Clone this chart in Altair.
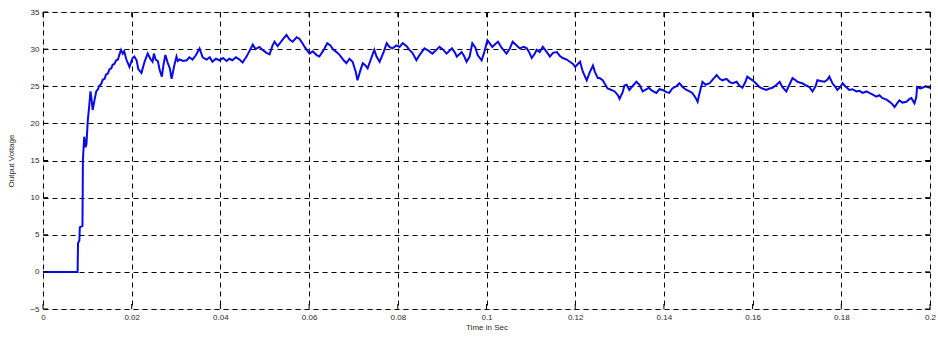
import altair as alt
import pandas as pd

# Sampled output voltage of the converter (time in seconds, voltage in volts)
time_s = [
    0.0000, 0.0078, 0.0079, 0.0082, 0.0083, 0.0089, 0.0090, 0.0093, 0.0096, 0.0098,
    0.0101, 0.0104, 0.0107, 0.0109, 0.0112, 0.0116, 0.0120, 0.0124, 0.0127, 0.0131,
    0.0135, 0.0139, 0.0142, 0.0146, 0.0150, 0.0154, 0.0157, 0.0161, 0.0165, 0.0169,
    0.0172, 0.0176, 0.0180, 0.0183, 0.0188, 0.0195, 0.0202, 0.0206, 0.0211, 0.0215,
    0.0219, 0.0222, 0.0229, 0.0236, 0.0242, 0.0247, 0.0250, 0.0254, 0.0259, 0.0263,
    0.0268, 0.0272, 0.0276, 0.0281, 0.0286, 0.0290, 0.0296, 0.0301, 0.0304, 0.0308,
    0.0316, 0.0324, 0.0330, 0.0337, 0.0345, 0.0353, 0.0360, 0.0369, 0.0376, 0.0382,
    0.0390, 0.0398, 0.0406, 0.0414, 0.0420, 0.0427, 0.0435, 0.0443, 0.0450, 0.0459,
    0.0466, 0.0473, 0.0479, 0.0488, 0.0495, 0.0504, 0.0511, 0.0517, 0.0522, 0.0529,
    0.0533, 0.0542, 0.0549, 0.0556, 0.0563, 0.0572, 0.0578, 0.0585, 0.0590, 0.0596,
    0.0601, 0.0608, 0.0617, 0.0623, 0.0632, 0.0641, 0.0648, 0.0655, 0.0662, 0.0669,
    0.0678, 0.0684, 0.0691, 0.0698, 0.0705, 0.0709, 0.0716, 0.0721, 0.0727, 0.0732,
    0.0739, 0.0747, 0.0752, 0.0759, 0.0768, 0.0775, 0.0781, 0.0788, 0.0797, 0.0804,
    0.0811, 0.0820, 0.0826, 0.0833, 0.0842, 0.0849, 0.0860, 0.0869, 0.0878, 0.0887,
    0.0894, 0.0901, 0.0910, 0.0917, 0.0922, 0.0928, 0.0933, 0.0939, 0.0944, 0.0950,
    0.0955, 0.0962, 0.0968, 0.0975, 0.0980, 0.0989, 0.0995, 0.1002, 0.1007, 0.1013,
    0.1020, 0.1026, 0.1034, 0.1045, 0.1052, 0.1059, 0.1068, 0.1075, 0.1084, 0.1091,
    0.1097, 0.1102, 0.1109, 0.1113, 0.1120, 0.1127, 0.1136, 0.1143, 0.1150, 0.1159,
    0.1165, 0.1172, 0.1181, 0.1188, 0.1195, 0.1200, 0.1206, 0.1211, 0.1217, 0.1226,
    0.1233, 0.1240, 0.1244, 0.1251, 0.1255, 0.1262, 0.1267, 0.1273, 0.1282, 0.1289,
    0.1296, 0.1300, 0.1307, 0.1311, 0.1316, 0.1322, 0.1329, 0.1338, 0.1345, 0.1352,
    0.1361, 0.1366, 0.1373, 0.1383, 0.1390, 0.1397, 0.1406, 0.1412, 0.1419, 0.1428,
    0.1435, 0.1442, 0.1451, 0.1458, 0.1464, 0.1471, 0.1476, 0.1480, 0.1487, 0.1494,
    0.1503, 0.1510, 0.1519, 0.1526, 0.1532, 0.1541, 0.1548, 0.1555, 0.1564, 0.1570,
    0.1577, 0.1584, 0.1588, 0.1595, 0.1600, 0.1609, 0.1615, 0.1622, 0.1631, 0.1638,
    0.1645, 0.1654, 0.1661, 0.1667, 0.1676, 0.1683, 0.1690, 0.1697, 0.1701, 0.1706,
    0.1712, 0.1721, 0.1728, 0.1735, 0.1742, 0.1746, 0.1753, 0.1762, 0.1769, 0.1773,
    0.1780, 0.1787, 0.1791, 0.1798, 0.1803, 0.1809, 0.1818, 0.1825, 0.1834, 0.1841,
    0.1848, 0.1857, 0.1863, 0.1870, 0.1879, 0.1886, 0.1893, 0.1902, 0.1909, 0.1915,
    0.1920, 0.1927, 0.1931, 0.1938, 0.1947, 0.1954, 0.1958, 0.1965, 0.1969, 0.1971,
    0.1978, 0.1983, 0.1990, 0.1994, 0.2000,
]

voltage = [
    0.0, 0.0, 3.9, 4.2, 6.0, 6.2, 15.1, 18.2, 16.8, 17.2,
    20.4, 22.2, 24.3, 23.5, 21.8, 23.1, 24.3, 24.6, 25.1, 25.3,
    25.9, 26.0, 26.6, 26.7, 27.3, 27.4, 27.9, 28.0, 28.5, 28.6,
    29.2, 29.9, 29.4, 29.7, 28.6, 27.6, 28.8, 29.0, 28.5, 27.3,
    27.0, 26.8, 28.3, 29.4, 28.7, 28.3, 29.4, 28.6, 28.4, 27.2,
    26.3, 28.0, 29.2, 28.2, 27.4, 26.0, 27.8, 29.0, 28.4, 28.6,
    28.4, 28.5, 28.9, 28.6, 29.2, 30.1, 28.9, 28.6, 28.9, 28.3,
    28.7, 28.5, 28.8, 28.4, 28.7, 28.5, 28.9, 28.6, 28.2, 29.0,
    29.8, 30.6, 30.0, 30.3, 29.9, 29.5, 29.3, 30.4, 31.0, 30.4,
    30.7, 31.4, 31.9, 31.3, 31.0, 31.6, 31.4, 30.8, 30.3, 29.8,
    29.4, 29.7, 29.2, 29.0, 29.8, 30.8, 30.5, 29.9, 29.6, 29.2,
    28.5, 28.1, 28.7, 28.3, 27.0, 25.8, 27.2, 28.1, 27.8, 27.4,
    28.6, 29.9, 29.0, 28.3, 29.6, 30.8, 30.3, 30.1, 30.5, 30.3,
    30.8, 30.4, 29.9, 29.5, 28.5, 29.2, 30.1, 29.8, 29.4, 29.9,
    30.3, 30.0, 29.4, 29.8, 30.1, 29.6, 29.0, 29.3, 29.6, 29.0,
    28.3, 29.0, 30.8, 30.2, 29.2, 28.5, 29.6, 31.2, 30.8, 30.3,
    30.7, 31.0, 30.2, 29.4, 30.0, 31.0, 30.5, 30.1, 30.3, 30.1,
    29.5, 28.8, 29.4, 29.9, 29.6, 30.3, 29.6, 29.0, 29.5, 29.6,
    29.1, 28.8, 28.6, 28.3, 28.0, 27.6, 28.0, 28.3, 27.0, 25.8,
    26.9, 27.8, 27.0, 26.1, 26.1, 25.8, 25.3, 24.7, 24.5, 24.3,
    23.8, 23.3, 24.2, 25.1, 25.2, 24.5, 25.0, 25.6, 25.2, 24.3,
    24.6, 24.8, 24.4, 24.1, 24.6, 24.5, 24.2, 24.1, 24.7, 25.0,
    25.4, 24.9, 24.5, 24.3, 24.1, 23.5, 22.9, 24.0, 25.6, 25.2,
    25.4, 25.9, 26.5, 26.0, 25.8, 26.0, 25.6, 25.4, 25.6, 25.1,
    24.8, 25.6, 26.3, 26.0, 25.8, 25.3, 24.9, 24.7, 24.5, 24.7,
    24.8, 25.2, 25.6, 24.9, 24.3, 25.2, 26.1, 25.8, 25.6, 25.5,
    25.4, 25.1, 24.9, 24.3, 25.0, 25.8, 25.7, 25.6, 25.9, 26.3,
    25.4, 24.9, 24.5, 24.9, 25.4, 25.0, 24.5, 24.6, 24.3, 24.4,
    24.1, 24.3, 24.1, 23.9, 23.6, 23.8, 23.4, 23.2, 22.9, 22.6,
    22.2, 22.8, 23.1, 22.8, 22.9, 23.3, 23.4, 22.7, 23.5, 24.9,
    24.7, 24.8, 25.0, 24.9, 24.8,
]

x_ticks = [0, 0.02, 0.04, 0.06, 0.08, 0.1, 0.12, 0.14, 0.16, 0.18, 0.2]
y_ticks = [-5, 0, 5, 10, 15, 20, 25, 30, 35]

df = pd.DataFrame({"t": time_s, "v": voltage})

FONT = "Liberation Sans"
TEXT = "#2a2a2a"

x_scale = alt.Scale(domain=[0, 0.2], nice=False, zero=False)
y_scale = alt.Scale(domain=[-5, 35], nice=False, zero=False)

axis_common = dict(
    grid=True,
    gridColor="black",
    gridDash=[5, 4],
    gridWidth=1,
    gridOpacity=1,
    ticks=False,
    domain=False,
    labelOverlap=False,
    labelFlush=False,
    labelFont=FONT,
    labelFontSize=8,
    labelColor=TEXT,
    titleFont=FONT,
    titleFontSize=8,
    titleFontWeight="normal",
    titleColor=TEXT,
)

x_axis = alt.Axis(
    title="Time in Sec",
    values=x_ticks,
    labelExpr="datum.value == 0 ? '0' : format(datum.value, '~g')",
    labelPadding=4,
    titlePadding=2,
    **axis_common,
)
y_axis = alt.Axis(
    title="Output Voltage",
    values=y_ticks,
    labelPadding=4,
    titlePadding=14,
    **axis_common,
)

line = (
    alt.Chart(df)
    .mark_line(color="#0a0ae6", strokeWidth=2, clip=True)
    .encode(
        x=alt.X("t:Q", scale=x_scale, axis=x_axis),
        y=alt.Y("v:Q", scale=y_scale, axis=y_axis),
    )
)

# Short solid tick marks pointing into the plot box on all four sides
xt = pd.DataFrame({"t": x_ticks})
yt = pd.DataFrame({"v": y_ticks})
tick_style = dict(color="black", strokeWidth=1)

bottom_ticks = alt.Chart(xt).mark_rule(**tick_style).encode(
    x=alt.X("t:Q", scale=x_scale, axis=x_axis), y=alt.value(297), y2=alt.value(292)
)
top_ticks = alt.Chart(xt).mark_rule(**tick_style).encode(
    x=alt.X("t:Q", scale=x_scale, axis=x_axis), y=alt.value(0), y2=alt.value(5)
)
left_ticks = alt.Chart(yt).mark_rule(**tick_style).encode(
    y=alt.Y("v:Q", scale=y_scale, axis=y_axis), x=alt.value(0), x2=alt.value(5)
)
right_ticks = alt.Chart(yt).mark_rule(**tick_style).encode(
    y=alt.Y("v:Q", scale=y_scale, axis=y_axis), x=alt.value(887), x2=alt.value(882)
)

chart = (
    alt.layer(line, bottom_ticks, top_ticks, left_ticks, right_ticks)
    .properties(
        width=887,
        height=297,
        autosize=alt.AutoSizeParams(type="none"),
        padding={"left": 43, "top": 12, "right": 8, "bottom": 30},
    )
    .configure_view(stroke="black", strokeWidth=1.3, fill="white")
    .configure(background="white")
)

chart.save("out.html", embed_options={"renderer": "svg", "actions": False})
